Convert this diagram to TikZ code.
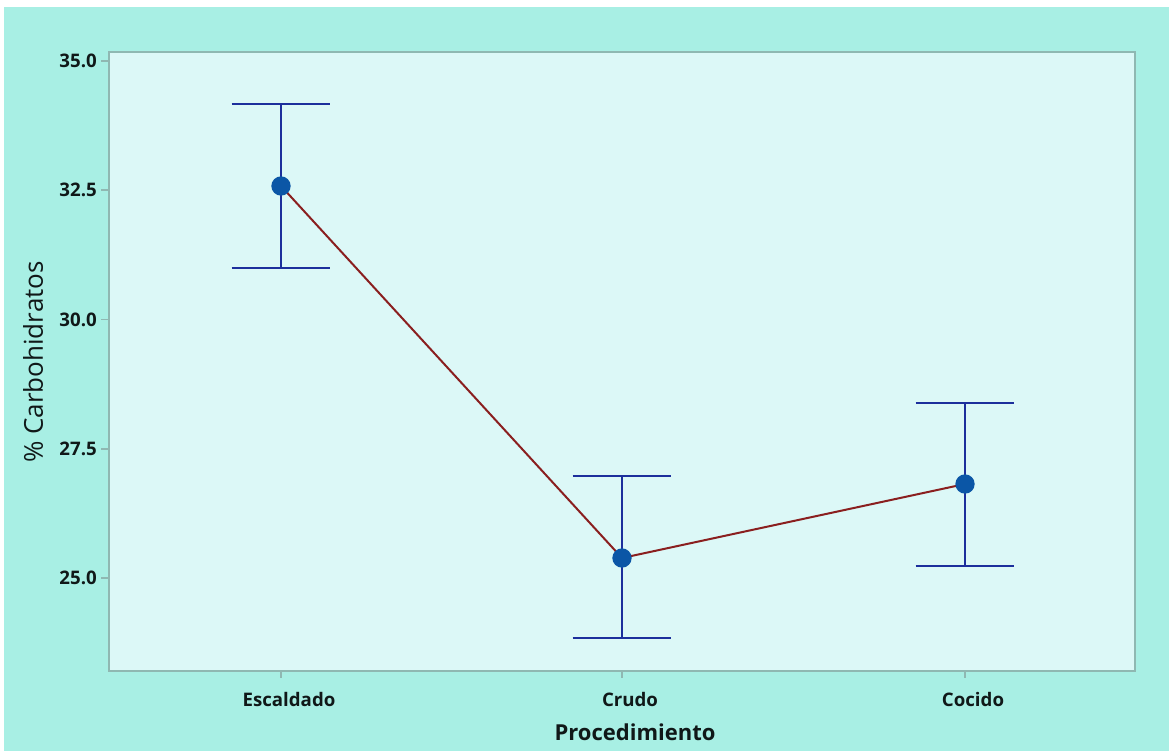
\documentclass[tikz,border=0pt]{standalone}
\usepackage{fontspec}
\setmainfont{Open Sans}
\begin{document}
\begin{tikzpicture}[x=0.75pt,y=0.75pt,
  panel/.style={fill=outerbg,draw=none},
  plotarea/.style={fill=innerbg,draw=framecol,line width=1.2pt},
  tickmark/.style={draw=framecol,line width=0.8pt},
  ticklabel/.style={font=\bfseries\fontsize{14}{16}\selectfont,text=labelcol,inner sep=0pt},
  axistitle/.style={font=\fontsize{19.5}{21}\selectfont,text=labelcol,inner sep=0pt},
  xtitle/.style={font=\bfseries\fontsize{16.5}{18}\selectfont,text=labelcol,inner sep=0pt},
  errbar/.style={draw=barcol,line width=2.2pt},
  meanline/.style={draw=linecol,line width=1.5pt},
  meandot/.style={circle,fill=dotcol,draw=none,minimum size=14.5pt,inner sep=0pt}]
\definecolor{outerbg}{HTML}{A8EFE4}
\definecolor{innerbg}{HTML}{DCF8F7}
\definecolor{framecol}{HTML}{8FB8B2}
\definecolor{labelcol}{HTML}{101818}
\definecolor{barcol}{HTML}{1C2F9C}
\definecolor{dotcol}{HTML}{0B56A6}
\definecolor{linecol}{HTML}{8A1F1F}
\useasboundingbox (0,0) rectangle (1169,751);
\fill[white] (0,0) rectangle (1169,751);
\fill[panel] (4,0) rectangle (1169,744);
% plot area
\draw[plotarea] (109,80) rectangle (1135,699);
% y axis ticks and labels
\foreach \yy/\lab/\nm in {690/35.0/ya,561/32.5/yb,431.5/30.0/yc,302/27.5/yd,173/25.0/ye}{
  \draw[tickmark] (101,\yy) -- (109,\yy);
  \node[ticklabel,anchor=east] (\nm) at (97,\yy) {\lab};
}
% x axis ticks and labels
\foreach \xx/\lab/\nm in {281/Escaldado/xa,622/Crudo/xb,965/Cocido/xc}{
  \draw[tickmark] (\xx,80) -- (\xx,73);
  \node[ticklabel] (\nm) at (\xx+8,52) {\lab};
}
\node[axistitle,rotate=90] (ytitle) at (33,389) {\% Carbohidratos};
\node[xtitle] (xtitle) at (635,19) {Procedimiento};
% error bars
\coordinate (eTop) at (281,647); \coordinate (eBot) at (281,483);
\coordinate (cTop) at (622,275); \coordinate (cBot) at (622,113);
\coordinate (kTop) at (965,348); \coordinate (kBot) at (965,185);
\foreach \t/\b in {eTop/eBot,cTop/cBot,kTop/kBot}{
  \draw[errbar] (\t) -- (\b);
  \draw[errbar] ([xshift=-37]\t) -- ([xshift=37]\t);
  \draw[errbar] ([xshift=-37]\b) -- ([xshift=37]\b);
}
% means
\coordinate (eMean) at (281,565);
\coordinate (cMean) at (622,193);
\coordinate (kMean) at (965,267);
\draw[meanline] (eMean) -- (cMean) -- (kMean);
\node[meandot] (ptE) at (eMean) {};
\node[meandot] (ptC) at (cMean) {};
\node[meandot] (ptK) at (kMean) {};
\end{tikzpicture}
\end{document}
